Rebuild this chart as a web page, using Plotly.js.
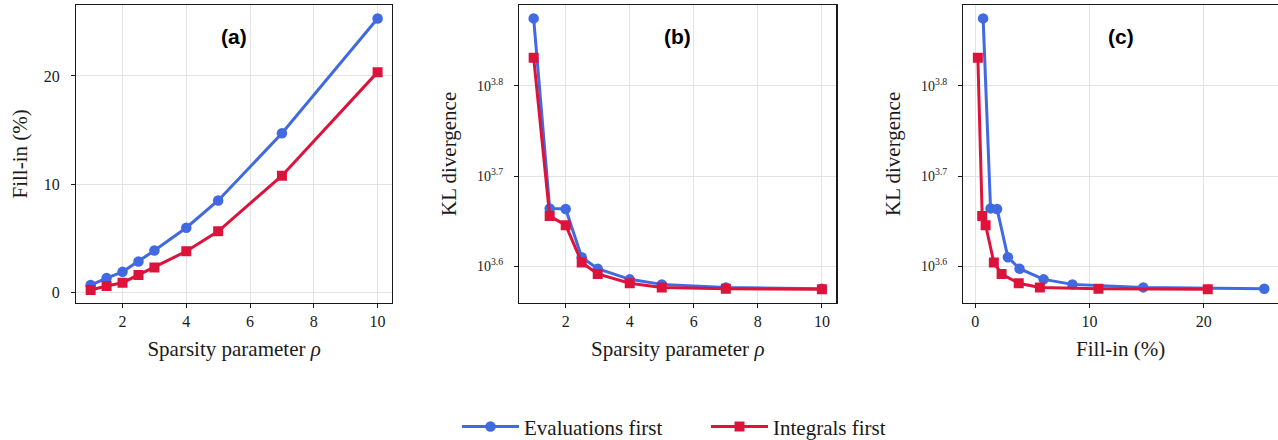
<!DOCTYPE html>
<html><head><meta charset="utf-8">
<script src="https://cdn.plot.ly/plotly-3.0.1.min.js"></script>
<style>html,body{margin:0;padding:0;background:#fff}</style>
</head><body><div id="chart" style="width:1278px;height:440px"></div>
<script>
// ---- data ----
const rho = [1, 1.5, 2, 2.5, 3, 4, 5, 7, 10];
const fillEval = [0.68, 1.33, 1.9, 2.85, 3.87, 5.98, 8.5, 14.7, 25.3];
const fillInt = [0.22, 0.6, 0.9, 1.62, 2.3, 3.8, 5.65, 10.78, 20.35];
const klEval = [7492, 4615, 4608, 4074, 3957, 3851, 3802, 3773, 3760];
const klInt = [6776, 4525, 4422, 4021, 3904, 3813, 3773, 3760, 3754];
const seriesNames = ['Evaluations first', 'Integrals first'];
const panelLabels = ['(a)', '(b)', '(c)'];
const kLogTicks = [3.6, 3.7, 3.8];
const kTickText = ['10<sup>3.6</sup>', '10<sup>3.7</sup>', '10<sup>3.8</sup>'];

const BLUE = '#4169E1', RED = '#DC143C';
const SERIF = 'Liberation Serif, Times New Roman, serif';
const INK = '#1a1a1a';

function tr(x, y, i, xa, ya, show) {
  return {
    x: x, y: y, xaxis: xa, yaxis: ya, type: 'scatter', mode: 'lines+markers',
    name: seriesNames[i], legendgroup: 'g' + i, showlegend: show,
    line: {color: i ? RED : BLUE, width: 3},
    marker: {color: i ? RED : BLUE, size: i ? 10 : 10.5, symbol: i ? 'square' : 'circle'}
  };
}
const data = [
  tr(rho, fillEval, 0, 'x', 'y', true), tr(rho, fillInt, 1, 'x', 'y', true),
  tr(rho, klEval, 0, 'x2', 'y2', false), tr(rho, klInt, 1, 'x2', 'y2', false),
  tr(fillEval, klEval, 0, 'x3', 'y3', false), tr(fillInt, klInt, 1, 'x3', 'y3', false)
];

const ydom = [0.312, 0.9886];
const titleFont = {family: SERIF, size: 21, color: INK};
function ax(extra) {
  return Object.assign({
    showline: true, mirror: true, linecolor: INK, linewidth: 1.3,
    ticks: 'outside', ticklen: 4, tickwidth: 1, tickcolor: INK,
    showgrid: true, gridcolor: '#e3e3e3', gridwidth: 1, zeroline: false,
    tickfont: {family: SERIF, size: 16, color: INK},
    automargin: false
  }, extra);
}
const tickVals = kLogTicks.map(v => Math.pow(10, v));
const layout = {
  width: 1278, height: 440, paper_bgcolor: '#fff', plot_bgcolor: '#fff',
  margin: {l: 0, r: 0, t: 0, b: 0, autoexpand: false},
  showlegend: true,
  legend: {orientation: 'h', x: 0.3576, xanchor: 'left', y: 0.03, yanchor: 'middle',
           font: {family: SERIF, size: 21, color: INK}, itemwidth: 57, entrywidth: 177, traceorder: 'normal'},
  xaxis: ax({domain: [0.0597, 0.3067], anchor: 'y', range: [0.55, 10.45], tickvals: [2, 4, 6, 8, 10],
             title: {text: 'Sparsity parameter <i>ρ</i>', font: titleFont, standoff: 12}}),
  yaxis: ax({domain: ydom, anchor: 'x', range: [-0.95, 26.55], tickvals: [0, 10, 20], ticklabelstandoff: 8,
             title: {text: 'Fill-in (%)', font: titleFont, standoff: 10}}),
  xaxis2: ax({domain: [0.4063, 0.6544], anchor: 'y2', range: [0.55, 10.45], tickvals: [2, 4, 6, 8, 10],
             title: {text: 'Sparsity parameter <i>ρ</i>', font: titleFont, standoff: 12}}),
  yaxis2: ax({domain: ydom, anchor: 'x2', type: 'log', range: [3.5597, 3.8894], tickvals: tickVals, ticktext: kTickText,
             tickfont: {family: SERIF, size: 14, color: INK}, ticklabelstandoff: 8,
             title: {text: 'KL divergence', font: titleFont, standoff: 14}}),
  xaxis3: ax({domain: [0.7538, 1.0], anchor: 'y3', range: [-1.05, 26.5], tickvals: [0, 10, 20],
             title: {text: 'Fill-in (%)', font: titleFont, standoff: 12}}),
  yaxis3: ax({domain: ydom, anchor: 'x3', type: 'log', range: [3.5597, 3.8894], tickvals: tickVals, ticktext: kTickText,
             tickfont: {family: SERIF, size: 14, color: INK}, ticklabelstandoff: 8,
             title: {text: 'KL divergence', font: titleFont, standoff: 14}}),
  annotations: panelLabels.map((t, i) => ({
    text: '<b>' + t + '</b>', xref: (i ? 'x' + (i + 1) : 'x') + ' domain', yref: (i ? 'y' + (i + 1) : 'y') + ' domain',
    x: 0.5, y: 0.8935, xanchor: 'center', yanchor: 'middle', showarrow: false,
    font: {family: 'Liberation Sans, Arial, sans-serif', size: 21, color: '#000'}
  }))
};
Plotly.newPlot('chart', data, layout, {displayModeBar: false, staticPlot: true});
</script></body></html>
